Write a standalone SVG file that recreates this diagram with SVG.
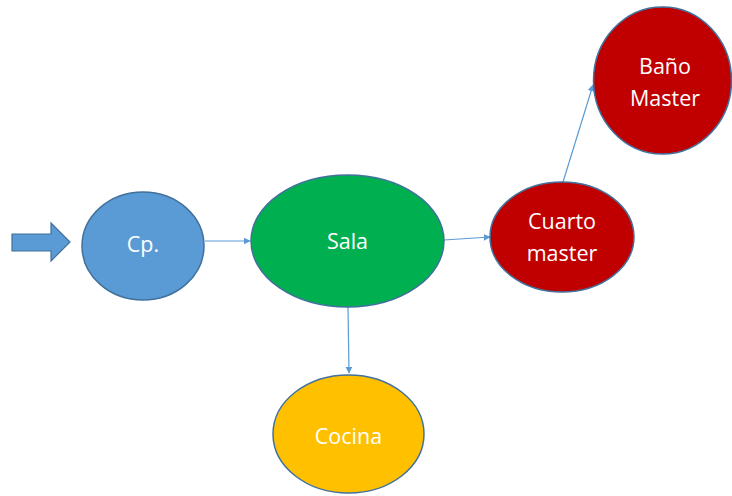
<svg xmlns="http://www.w3.org/2000/svg" width="732" height="496" viewBox="0 0 732 496">
<defs>
<style>
.n{stroke:#41719C;stroke-width:1.5}
.t{font-family:"Open Sans","Liberation Sans",sans-serif;font-size:21.5px;fill:#fff;text-anchor:middle}
.c{stroke:#5B9BD5;stroke-width:1.2;fill:none;marker-end:url(#ah)}
</style>
<marker id="ah" viewBox="0 0 10 10" refX="9" refY="5" markerWidth="7" markerHeight="7" orient="auto" markerUnits="userSpaceOnUse">
<path d="M0,0 L10,5 L0,10 z" fill="#5B9BD5"/>
</marker>
</defs>
<rect width="732" height="496" fill="#fff"/>
<g id="entrada">
<path d="M12,234 H51 V223 L70,242 L51,261 V251 H12 Z" fill="#5B9BD5" stroke="#41719C" stroke-width="1.2"/>
</g>
<g id="connectors">
<line class="c" x1="205" y1="241" x2="250" y2="241"/>
<line class="c" x1="444" y1="240" x2="490" y2="237"/>
<line class="c" x1="348" y1="307" x2="349" y2="373"/>
<line class="c" x1="563" y1="182" x2="593" y2="85"/>
</g>
<g id="cp">
<ellipse class="n" cx="143" cy="246" rx="61" ry="54" fill="#5B9BD5"/>
<text class="t" x="143" y="252">Cp.</text>
</g>
<g id="sala">
<ellipse class="n" cx="347.5" cy="241" rx="96.5" ry="66" fill="#00B050"/>
<text class="t" x="347.5" y="249">Sala</text>
</g>
<g id="cocina">
<ellipse class="n" cx="348.5" cy="434" rx="75.5" ry="59" fill="#FFC000"/>
<text class="t" x="348.5" y="444">Cocina</text>
</g>
<g id="cuarto">
<ellipse class="n" cx="562" cy="237" rx="72" ry="55" fill="#C00000"/>
<text class="t" x="562" y="229">Cuarto</text>
<text class="t" x="562" y="261">master</text>
</g>
<g id="bano">
<ellipse class="n" cx="662.5" cy="80.5" rx="69" ry="73.5" fill="#C00000"/>
<text class="t" x="665" y="74">Baño</text>
<text class="t" x="665" y="106">Master</text>
</g>
</svg>
